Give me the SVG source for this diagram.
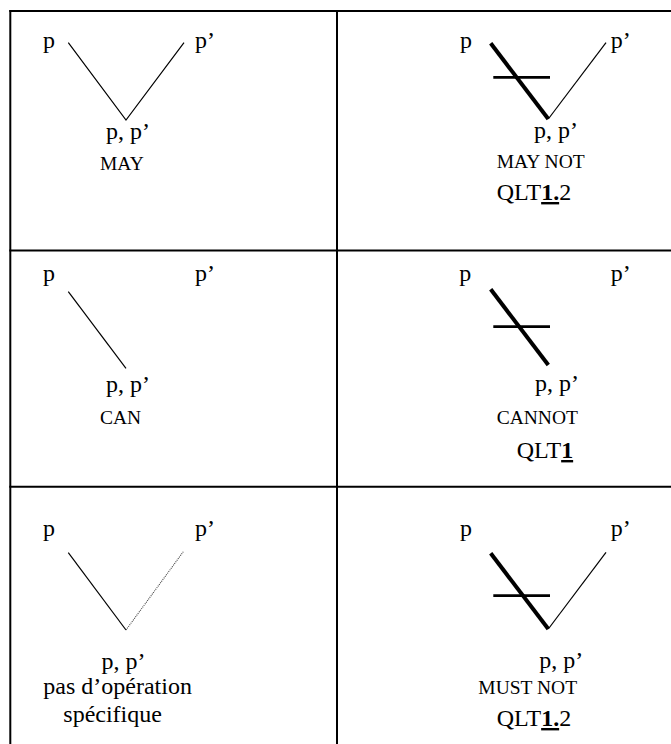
<svg xmlns="http://www.w3.org/2000/svg" width="671" height="744" viewBox="0 0 671 744">
<style>
text{fill:#000}
.m{font-size:24px}
.s{font-size:19.5px}
.u{font-weight:bold;text-decoration:underline}
.grid{stroke:#000;stroke-width:2;fill:none}
.thin{stroke:#000;stroke-width:1.2;fill:none}
.thick{stroke:#000;stroke-width:4;fill:none}
.bar{stroke:#000;stroke-width:2.8;fill:none}
.dot{stroke:#444;stroke-width:1.1;stroke-dasharray:1 1;fill:none}
</style>
<rect width="671" height="744" fill="#fff"/>
<g id="table" class="grid">
<line x1="9.3" y1="11" x2="671" y2="11"/>
<line x1="10.3" y1="10" x2="10.3" y2="744"/>
<line x1="337" y1="10" x2="337" y2="744"/>
<line x1="9.3" y1="250.5" x2="671" y2="250.5"/>
<line x1="9.3" y1="486.7" x2="671" y2="486.7"/>
</g>
<g font-family="Liberation Serif, Times New Roman, DejaVu Serif, serif">
<g id="cell-may">
<text class="m" x="43" y="48">p</text>
<text class="m" x="195" y="48">p’</text>
<text class="m" x="106" y="138.5">p, p’</text>
<text class="s" x="100" y="169.5">MAY</text>
</g>
<g id="cell-maynot">
<text class="m" x="460" y="48">p</text>
<text class="m" x="610.7" y="48">p’</text>
<text class="m" x="534" y="138">p, p’</text>
<text class="s" x="496.7" y="168">MAY NOT</text>
<text class="m" x="496.7" y="200">QLT<tspan class="u">1.</tspan>2</text>
</g>
<g id="cell-can">
<text class="m" x="43" y="281">p</text>
<text class="m" x="195" y="281">p’</text>
<text class="m" x="106" y="391.5">p, p’</text>
<text class="s" x="100" y="423.5">CAN</text>
</g>
<g id="cell-cannot">
<text class="m" x="459.3" y="281">p</text>
<text class="m" x="610.7" y="281">p’</text>
<text class="m" x="535" y="391">p, p’</text>
<text class="s" x="496.7" y="423.5">CANNOT</text>
<text class="m" x="516.7" y="458">QLT<tspan class="u">1</tspan></text>
</g>
<g id="cell-none">
<text class="m" x="43" y="535.5">p</text>
<text class="m" x="195" y="535.5">p’</text>
<text class="m" x="101.5" y="669">p, p’</text>
<text class="m" x="43.3" y="694">pas d’opération</text>
<text class="m" x="63.3" y="722">spécifique</text>
</g>
<g id="cell-mustnot">
<text class="m" x="460" y="536">p</text>
<text class="m" x="610.7" y="536">p’</text>
<text class="m" x="539.3" y="668">p, p’</text>
<text class="s" x="478.3" y="694">MUST NOT</text>
<text class="m" x="496.7" y="726">QLT<tspan class="u">1.</tspan>2</text>
</g>
</g>
<g id="connectors">
<polyline class="thin" points="68.3,42.7 126,120 184,42.7"/>
<line class="thick" x1="490.7" y1="43.3" x2="548.3" y2="119"/>
<line class="thin" x1="548.3" y1="119" x2="606" y2="42.7"/>
<line class="bar" x1="493.3" y1="77.3" x2="550" y2="77.3"/>
<line class="thin" x1="68.3" y1="291.7" x2="126" y2="368.3"/>
<line class="thick" x1="490.7" y1="289.3" x2="548.3" y2="365"/>
<line class="bar" x1="493.3" y1="326.7" x2="550" y2="326.7"/>
<line class="thin" x1="68.3" y1="552.7" x2="126" y2="630"/>
<line class="dot" x1="126" y1="630" x2="183.3" y2="551.7"/>
<line class="thick" x1="490.7" y1="553.3" x2="548.3" y2="629"/>
<line class="thin" x1="548.3" y1="629" x2="606" y2="552.3"/>
<line class="bar" x1="493.3" y1="595.7" x2="550" y2="595.7"/>
</g>
</svg>
